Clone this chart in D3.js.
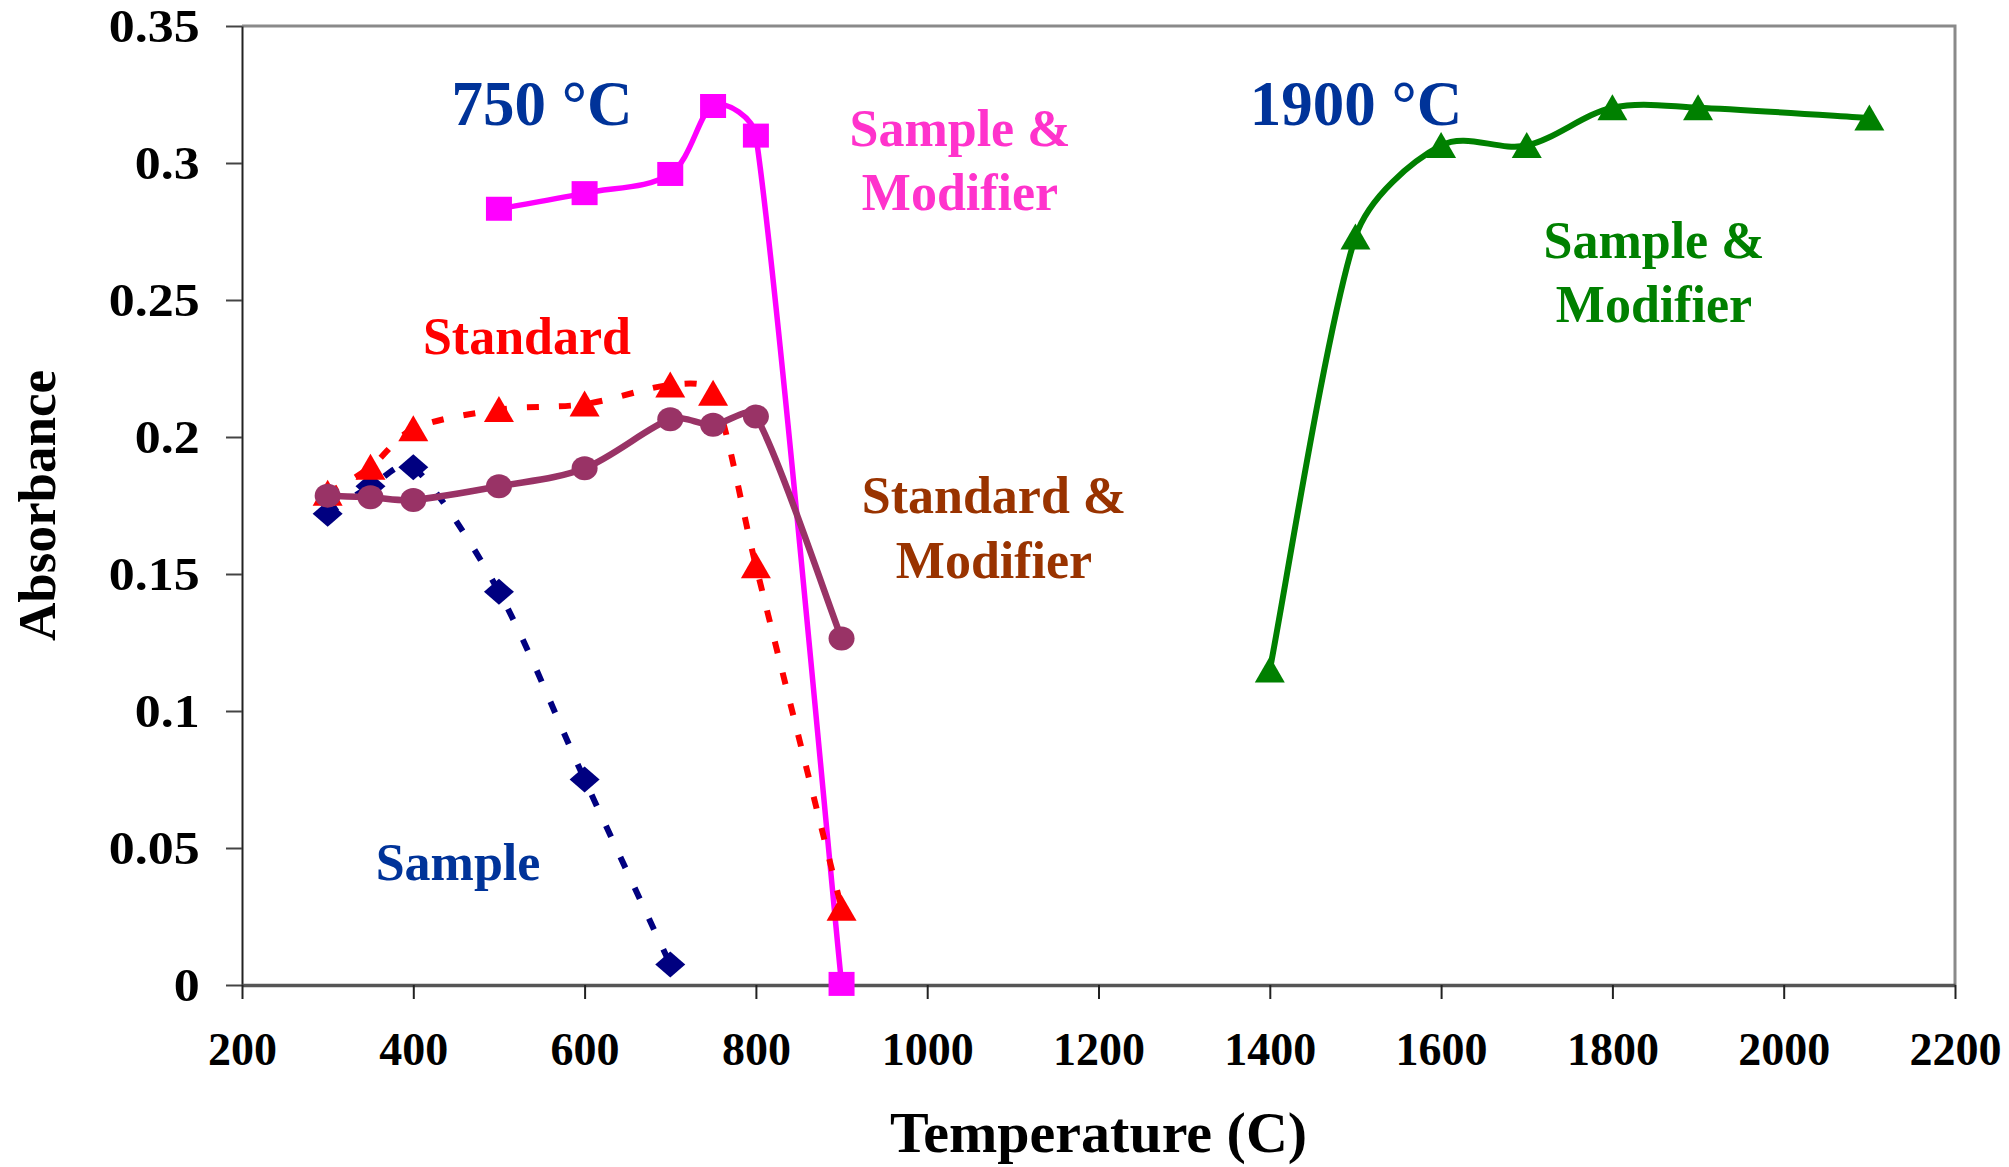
<!DOCTYPE html>
<html><head><meta charset="utf-8">
<script src="https://cdn.jsdelivr.net/npm/d3@7"></script>
<style>body{margin:0;background:#fff}svg{display:block}</style>
</head><body>
<svg id="chart" width="2009" height="1167"></svg>
<script>
// ---- data ----
const xTicks = [200,400,600,800,1000,1200,1400,1600,1800,2000,2200];
const yTicks = [0,0.05,0.1,0.15,0.2,0.25,0.3,0.35];
const yTickLabels = ["0","0.05","0.1","0.15","0.2","0.25","0.3","0.35"];

const sampleX = [300,350,400,500,600,700];
const sampleY = [0.172,0.182,0.189,0.1435,0.075,0.0075];

const standardX = [300,350,400,500,600,700,750,800,900];
const standardY = [0.1795,0.189,0.203,0.210,0.212,0.219,0.216,0.153,0.028];

const stdModX = [300,350,400,500,600,700,750,800,900];
const stdModY = [0.1786,0.178,0.177,0.182,0.1886,0.2065,0.2045,0.2075,0.1265];

const sampMod750X = [500,600,700,750,800,900];
const sampMod750Y = [0.2833,0.289,0.296,0.3208,0.310,0.0004];

const sampMod1900X = [1400,1500,1600,1700,1800,1900,2100];
const sampMod1900Y = [0.115,0.273,0.3064,0.3064,0.3202,0.3202,0.3164];

// ---- setup ----
const svg = d3.select("#chart");
const W = 2009, H = 1167;
const L = 242, R = 1955, T = 26, B = 985;
const x = d3.scaleLinear().domain([200,2200]).range([L,R]);
const y = d3.scaleLinear().domain([0,0.35]).range([B,T]);
const FONT = "'Liberation Serif','Times New Roman',serif";

svg.append("rect").attr("width",W).attr("height",H).attr("fill","#fff");

// plot frame (top, right)
svg.append("path")
  .attr("d", `M${L},${T}H${R}V${B}`)
  .attr("fill","none").attr("stroke","#8a8a8a").attr("stroke-width",3);

// y axis
const yAxis = svg.append("g").attr("transform",`translate(${L},0)`)
  .call(d3.axisLeft(y).tickValues(yTicks).tickSize(16).tickSizeOuter(0)
    .tickFormat((d,i)=>yTickLabels[i]));
yAxis.select(".domain").attr("stroke","#222").attr("stroke-width",2);
yAxis.selectAll(".tick line").attr("stroke","#444").attr("stroke-width",2);
yAxis.selectAll(".tick text")
  .attr("x",-37.5).attr("dy","0.34em")
  .attr("transform","scale(1.13,1)")
  .style("font-family",FONT).style("font-weight","bold").style("font-size","46px").attr("fill","#000");

// x axis
const xAxis = svg.append("g").attr("transform",`translate(0,${B})`)
  .call(d3.axisBottom(x).tickValues(xTicks).tickSize(14).tickSizeOuter(0).tickFormat(d3.format("d")));
xAxis.select(".domain").attr("stroke","#555").attr("stroke-width",3.5);
xAxis.selectAll(".tick line").attr("stroke","#222").attr("stroke-width",2);
xAxis.selectAll(".tick text")
  .attr("y",80).attr("dy",0)
  .style("font-family",FONT).style("font-weight","bold").style("font-size","46px").attr("fill","#000");

// axis titles
svg.append("text").attr("x",(L+R)/2).attr("y",1152).attr("text-anchor","middle")
  .style("font-family",FONT).style("font-weight","bold").style("font-size","58px").text("Temperature (C)");
svg.append("text").attr("transform",`translate(55,${(T+B)/2}) rotate(-90)`).attr("text-anchor","middle")
  .style("font-family",FONT).style("font-weight","bold").style("font-size","53px").text("Absorbance");

// ---- Excel-like smoothing curve (custom d3 curve factory) ----
function ExcelSmooth(context){ this._context = context; }
ExcelSmooth.prototype = {
  areaStart(){ this._line = 0; },
  areaEnd(){ this._line = NaN; },
  lineStart(){ this._pts = []; },
  point(px,py){ this._pts.push([+px,+py]); },
  lineEnd(){
    const p = this._pts, n = p.length, c = this._context;
    if(!n) return;
    c.moveTo(p[0][0],p[0][1]);
    if(n===1) return;
    if(n===2){ c.lineTo(p[1][0],p[1][1]); return; }
    const tan = p.map((q,i)=>{
      const a = p[Math.max(0,i-1)], b = p[Math.min(n-1,i+1)];
      return [(b[0]-a[0])/6,(b[1]-a[1])/6];
    });
    const clamp = (t,m)=>{ const l=Math.hypot(t[0],t[1]); return l>m ? [t[0]*m/l,t[1]*m/l] : t; };
    for(let i=0;i<n-1;i++){
      const a=p[i], b=p[i+1];
      const len = Math.hypot(b[0]-a[0], b[1]-a[1]);
      const t1 = clamp(tan[i],len/3), t2 = clamp(tan[i+1],len/3);
      c.bezierCurveTo(a[0]+t1[0],a[1]+t1[1],b[0]-t2[0],b[1]-t2[1],b[0],b[1]);
    }
  }
};
const excelCurve = ctx => new ExcelSmooth(ctx);

// ---- series ----
function zip(xs, ys){ return xs.map((v,i)=>[v,ys[i]]); }
const lineGen = d3.line().x(d=>x(d[0])).y(d=>y(d[1])).curve(excelCurve);

function marker(g, pts, type, color){
  const sel = g.selectAll("m").data(pts).enter();
  if(type==="square"){
    sel.append("rect").attr("x",d=>x(d[0])-13).attr("y",d=>y(d[1])-12)
      .attr("width",26).attr("height",24).attr("fill",color);
  } else if(type==="circle"){
    sel.append("ellipse").attr("cx",d=>x(d[0])).attr("cy",d=>y(d[1]))
      .attr("rx",13).attr("ry",12).attr("fill",color);
  } else if(type==="diamond"){
    sel.append("path").attr("d",d=>{const cx=x(d[0]),cy=y(d[1]);return `M${cx},${cy-13}L${cx+15},${cy}L${cx},${cy+13}L${cx-15},${cy}Z`;})
      .attr("fill",color);
  } else if(type==="triangle"){
    sel.append("path").attr("d",d=>{const cx=x(d[0]),cy=y(d[1]);return `M${cx},${cy-13.5}L${cx+15},${cy+12.5}L${cx-15},${cy+12.5}Z`;})
      .attr("fill",color);
  }
}

function series(xs, ys, color, width, dash, mtype){
  const g = svg.append("g");
  const pts = zip(xs, ys);
  g.append("path").attr("d",lineGen(pts)).attr("fill","none")
    .attr("stroke",color).attr("stroke-width",width)
    .attr("stroke-dasharray",dash||null).attr("stroke-linejoin","round");
  marker(g, pts, mtype, color);
}

series(sampMod750X, sampMod750Y, "#FF00FF", 5.5, null, "square");
series(sampleX, sampleY, "#000080", 6, "12 22", "diamond");
series(standardX, standardY, "#FF0000", 6, "12 20", "triangle");
series(stdModX, stdModY, "#993366", 6.5, null, "circle");
series(sampMod1900X, sampMod1900Y, "#008000", 6, null, "triangle");

// ---- annotations ----
function label(lines, cx, y0, dy, size, color){
  const t = svg.append("text").attr("text-anchor","middle")
    .style("font-family",FONT).style("font-weight","bold").style("font-size",size+"px").attr("fill",color);
  lines.forEach((s,i)=>t.append("tspan").attr("x",cx).attr("y",y0+i*dy).text(s));
}
label(["750 °C"], 542, 125, 0, 63, "#003399");
label(["1900 °C"], 1356, 125, 0, 63, "#003399");
label(["Standard"], 527, 354, 0, 52, "#FF0000");
label(["Sample &","Modifier"], 960, 146, 64, 52, "#FF33CC");
label(["Standard &","Modifier"], 994, 513, 65, 52, "#993300");
label(["Sample"], 458, 880, 0, 52, "#003399");
label(["Sample &","Modifier"], 1654, 258, 64, 52, "#008000");
</script>
</body></html>
